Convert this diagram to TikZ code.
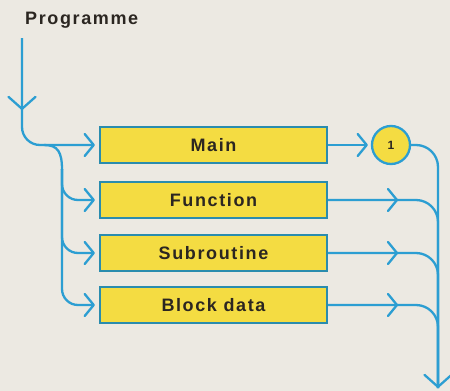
\documentclass[tikz,border=0pt]{standalone}
\usepackage{fontspec}
\setmainfont{Liberation Sans}[LetterSpace=9]
\usetikzlibrary{arrows.meta,decorations.markings}
\definecolor{paper}{HTML}{ECE9E2}
\definecolor{flow}{HTML}{2C9ED2}
\definecolor{frame}{HTML}{2A8CAE}
\definecolor{boxfill}{HTML}{F4DC42}
\definecolor{ink}{HTML}{2B2621}
\tikzset{
  chev/.tip={Straight Barb[length=9pt,width=22pt,round]},
  bigchev/.tip={Straight Barb[length=12pt,width=27pt,round]},
  flowline/.style={draw=flow, line width=2.3pt},
  unit/.style={draw=frame, line width=2.3pt, fill=boxfill, minimum width=227pt,
    minimum height=36pt, inner sep=0pt, text=ink,
    font=\fontsize{18}{21}\selectfont\bfseries},
  midchev/.style={postaction={decorate}, decoration={markings,
    mark=at position #1 with {\arrow{chev}}}},
  midbig/.style={postaction={decorate}, decoration={markings,
    mark=at position #1 with {\arrow{bigchev}}}},
}
\begin{document}
\begin{tikzpicture}[x=1pt,y=-1pt]
\fill[paper] (0,0) rectangle (450,391);
\useasboundingbox (0,0) rectangle (450,391);

\node[anchor=base west, inner sep=0pt, text=ink, font=\fontsize{18}{21}\selectfont\bfseries]
  (title) at (25,24) {Programme};

% the four programme units
\node[unit] (main) at (213.5,145) {Main};
\node[unit] (func) at (213.5,200) {Function};
\node[unit] (sub)  at (213.5,253) {Subroutine};
\node[unit] (blk)  at (213.5,305) {Block data};

\node[circle, draw=flow, fill=boxfill, line width=2.3pt, minimum size=38pt,
  inner sep=0pt, text=ink, font=\fontsize{12}{14}\selectfont\bfseries]
  (one) at (391,145) {1};

\coordinate (top) at (22,38);
\coordinate (split) at (44,145);
\coordinate (exit) at (438,388);

% incoming flow and distribution to the units
\draw[flowline, rounded corners=18, midbig=72pt, -chev, shorten >=4pt]
  (top) |- (main.west);
\draw[flowline] (split) .. controls (58,145) and (62,152) .. (62,170);
\draw[flowline, rounded corners=16, -chev, shorten >=4pt] (62,169) |- (func.west);
\draw[flowline, rounded corners=16, -chev, shorten >=4pt] (62,169) |- (sub.west);
\draw[flowline, rounded corners=16, -chev, shorten >=4pt] (62,169) |- (blk.west);

% outgoing flow
\draw[flowline, -chev, shorten >=3pt] (main.east) -- (one.west);
\draw[flowline, rounded corners=22, -bigchev] (one.east) -| (exit);
\draw[flowline, rounded corners=22, midchev=70pt] (func.east) -| (exit);
\draw[flowline, rounded corners=22, midchev=70pt] (sub.east) -| (exit);
\draw[flowline, rounded corners=22, midchev=70pt] (blk.east) -| (exit);
\end{tikzpicture}
\end{document}
